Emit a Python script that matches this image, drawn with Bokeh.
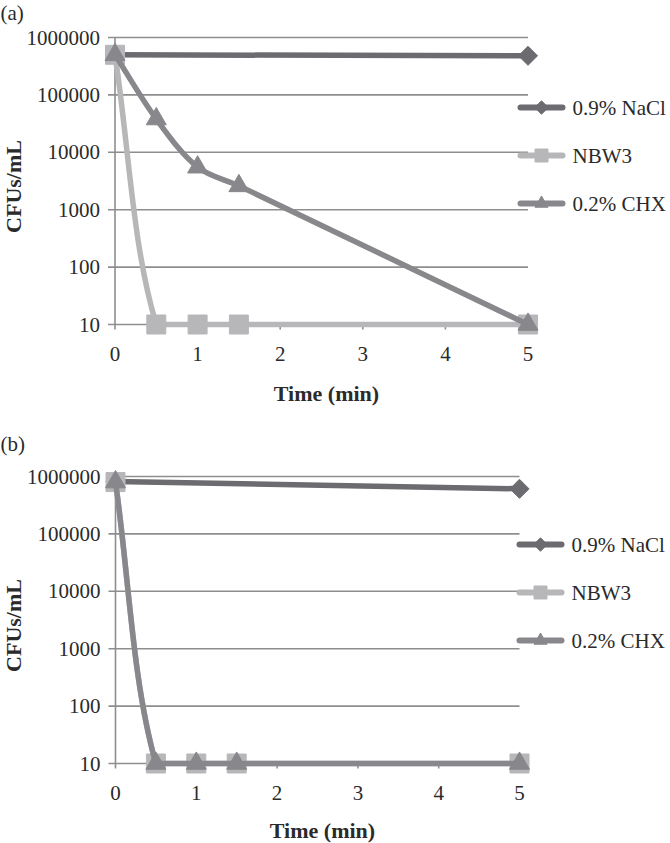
import math
from bokeh.plotting import figure
from bokeh.layouts import column
from bokeh.models import Label, Range1d
from bokeh.core.properties import value
from bokeh.embed import file_html
from bokeh.resources import INLINE

# ---------------- data ----------------
series_names = ["0.9% NaCl", "NBW3", "0.2% CHX"]
time_nacl = [0, 5]
time_pts = [0, 0.5, 1, 1.5, 5]

nacl_a = [500000, 480000]
nbw3_a = [500000, 10, 10, 10, 10]
chx_a = [500000, 38000, 5500, 2600, 10]

nacl_b = [820000, 610000]
nbw3_b = [800000, 10, 10, 10, 10]
chx_b = [800000, 10, 10, 10, 10]

x_ticks = [0, 1, 2, 3, 4, 5]
x_tick_labels = ["0", "1", "2", "3", "4", "5"]
y_ticks = [10, 100, 1000, 10000, 100000, 1000000]
y_tick_labels = ["10", "100", "1000", "10000", "100000", "1000000"]

# ---------------- style ----------------
FONT = "Liberation Serif"
TXT = "#2a2a2a"
GRID = "#8e8e8e"
COLORS = ["#6b6b70", "#b7b7ba", "#88888c"]
PX_DEC = 57.4    # px per decade
W = 670


def bezier_parts(xs, ys, pxx):
    n = len(xs)
    sx = [x * pxx for x in xs]
    sy = [math.log10(y) * PX_DEC for y in ys]

    def d(i, j):
        return math.hypot(sx[j] - sx[i], sy[j] - sy[i])

    out = {k: [] for k in ["x0", "y0", "x1", "y1", "cx0", "cy0", "cx1", "cy1"]}
    for i in range(n - 1):
        a = max(i - 1, 0)
        b = min(i + 2, n - 1)
        d01, d12, d23 = d(a, i), d(i, i + 1), d(i + 1, b)
        f1 = d12 / (d01 + d12) / 3
        f2 = d12 / (d12 + d23) / 3
        c1x = sx[i] + (sx[i + 1] - sx[a]) * f1
        c1y = sy[i] + (sy[i + 1] - sy[a]) * f1
        c2x = sx[i + 1] - (sx[b] - sx[i]) * f2
        c2y = sy[i + 1] - (sy[b] - sy[i]) * f2
        lo, hi = min(sy[i], sy[i + 1]), max(sy[i], sy[i + 1])
        c1y = min(max(c1y, lo), hi)
        c2y = min(max(c2y, lo), hi)
        out["x0"].append(xs[i]); out["y0"].append(ys[i])
        out["x1"].append(xs[i + 1]); out["y1"].append(ys[i + 1])
        out["cx0"].append(c1x / pxx); out["cy0"].append(10 ** (c1y / PX_DEC))
        out["cx1"].append(c2x / pxx); out["cy1"].append(10 ** (c2y / PX_DEC))
    return out


def make_panel(tag, data, T, H, X0, PXX, Y6, leg_y0, leg_x0, tag_y, ylab_y, xlab_x, xlab_y):
    """Positions are picture pixels. T: y of canvas top; X0: x of time 0; Y6: y of top tick."""
    def dx(px):
        return (px - X0) / PXX

    def dy(py):
        return 10 ** (math.log10(y_ticks[-1]) + (Y6 - py) / PX_DEC)

    p = figure(width=W, height=H, y_axis_type="log",
               x_range=Range1d(dx(0), dx(W)),
               y_range=Range1d(dy(T + H), dy(T)),
               min_border=0, output_backend="svg", toolbar_location=None)
    p.outline_line_color = None
    p.axis.visible = False
    p.grid.visible = False

    xmin, xmax = x_ticks[0], x_ticks[-1]
    ymin = y_ticks[0]
    tick_left = xmin - 7 / PXX
    tick_low = 10 ** (math.log10(ymin) - 5 / PX_DEC)

    # gridlines (incl. left tick marks)
    p.segment(x0=[tick_left] * len(y_ticks), x1=[xmax] * len(y_ticks),
              y0=y_ticks, y1=y_ticks, line_color=GRID, line_width=1.6)
    # y axis line
    p.segment(x0=[xmin], x1=[xmin], y0=[y_ticks[0]], y1=[y_ticks[-1]],
              line_color=GRID, line_width=1.6)
    # x tick marks
    p.segment(x0=x_ticks, x1=x_ticks, y0=[ymin] * len(x_ticks),
              y1=[tick_low] * len(x_ticks), line_color=GRID, line_width=1.6)

    # tick labels
    p.text(x=[xmin] * len(y_ticks), y=y_ticks, text=y_tick_labels,
           x_offset=-15, text_align="right", text_baseline="middle",
           text_font=value(FONT), text_font_size="21px", text_color=TXT)
    p.text(x=x_ticks, y=[ymin] * len(x_ticks), text=x_tick_labels,
           y_offset=29, text_align="center", text_baseline="middle",
           text_font=value(FONT), text_font_size="21px", text_color=TXT)

    specs = [
        ("square", 0.7854, 13.5, 9.5),
        ("square", 0.0, 19, 13),
        ("triangle", 0.0, 20, 13),
    ]
    for (xs, ys), col, (mk, ang, sz, lsz) in zip(data, COLORS, specs):
        bz = bezier_parts(xs, ys, PXX)
        p.bezier(source=bz, x0="x0", y0="y0", x1="x1", y1="y1",
                 cx0="cx0", cy0="cy0", cx1="cx1", cy1="cy1",
                 line_color=col, line_width=5.5, line_cap="round")
        p.scatter(xs, ys, marker=mk, angle=ang, size=sz,
                  fill_color=col, line_color=col)

    # legend (drawn with glyphs so the diamond keeps its orientation)
    ly = [dy(leg_y0 + 48 * k) for k in range(len(series_names))]
    p.segment(x0=[dx(leg_x0 + 2)] * 3, x1=[dx(leg_x0 + 44)] * 3, y0=ly, y1=ly,
              line_color=COLORS, line_width=6, line_cap="round")
    for k, (mk, ang, sz, lsz) in enumerate(specs):
        p.scatter([dx(leg_x0 + 23)], [ly[k]], marker=mk, angle=ang, size=lsz,
                  fill_color=COLORS[k], line_color=COLORS[k])
    p.text(x=[dx(leg_x0 + 54)] * 3, y=ly, text=series_names,
           text_align="left", text_baseline="middle",
           text_font=value(FONT), text_font_size="21px", text_color=TXT)

    p.add_layout(Label(x=dx(0), y=dy(tag_y), text=tag,
                       text_font=FONT, text_font_size="21px", text_color=TXT,
                       text_align="left", text_baseline="middle"))
    p.add_layout(Label(x=dx(13), y=dy(ylab_y), text="CFUs/mL",
                       angle=math.pi / 2, text_font=FONT, text_font_size="22px",
                       text_font_style="bold", text_color=TXT,
                       text_align="center", text_baseline="middle"))
    p.add_layout(Label(x=dx(xlab_x), y=dy(xlab_y),
                       text="Time (min)", text_font=FONT, text_font_size="22px",
                       text_font_style="bold", text_color=TXT,
                       text_align="center", text_baseline="middle"))
    return p


HA = 420
HB = 423
pa = make_panel("(a)", [(time_nacl, nacl_a), (time_pts, nbw3_a), (time_pts, chx_a)],
                T=0, H=HA, X0=114.5, PXX=82.6, Y6=37, leg_y0=107, leg_x0=518,
                tag_y=12, ylab_y=186, xlab_x=326, xlab_y=393)
pb = make_panel("(b)", [(time_nacl, nacl_b), (time_pts, nbw3_b), (time_pts, chx_b)],
                T=HA, H=HB, X0=115, PXX=80.8, Y6=476, leg_y0=544, leg_x0=517,
                tag_y=443, ylab_y=625, xlab_x=322, xlab_y=830)

layout = column(pa, pb, spacing=0)
open("out.html", "w").write(file_html(layout, INLINE))
